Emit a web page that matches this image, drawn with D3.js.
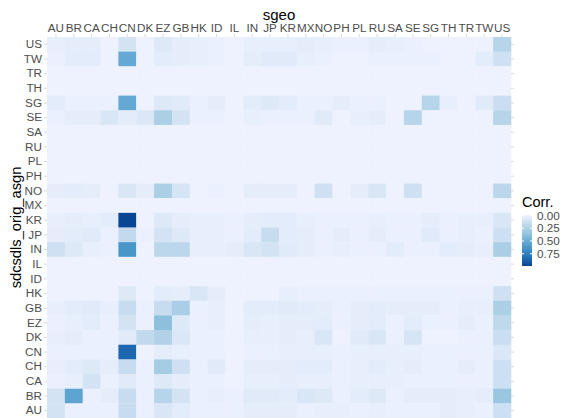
<!DOCTYPE html>
<html>
<head>
<meta charset="utf-8">
<script src="https://cdn.jsdelivr.net/npm/d3@7"></script>
<style>
  body { margin: 0; background: #fff; }
  text { font-family: "Liberation Sans", Arial, sans-serif; }
</style>
</head>
<body>
<svg id="chart" width="565" height="418"></svg>
<script>
// sgeo categories (x, columns)
const xCats = ["AU","BR","CA","CH","CN","DK","EZ","GB","HK","ID","IL","IN","JP",
               "KR","MX","NO","PH","PL","RU","SA","SE","SG","TH","TR","TW","US"];
// sdcsdls_orig_asgn categories (y, rows, top to bottom)
const yCats = ["US","TW","TR","TH","SG","SE","SA","RU","PL","PH","NO","MX","KR",
               "JP","IN","IL","ID","HK","GB","EZ","DK","CN","CH","CA","BR","AU"];
// correlation values, one row per y category, columns in xCats order
const corr = [
  [0.02,0.03,0.03,0.00,0.10,0.00,0.06,0.03,0.02,0.01,0.00,0.02,0.02, 0.02,0.03,0.02,0.01,0.01,0.03,0.02,0.01,0.00,0.00,0.00,0.00,0.22], // US
  [0.01,0.04,0.04,0.00,0.52,0.00,0.04,0.03,0.02,0.01,0.00,0.03,0.05, 0.05,0.02,0.01,0.00,0.00,0.01,0.01,0.01,0.01,0.00,0.00,0.04,0.12], // TW
  [0.00,0.00,0.00,0.00,0.00,0.00,0.00,0.00,0.00,0.00,0.00,0.00,0.00, 0.00,0.00,0.00,0.00,0.00,0.00,0.00,0.00,0.00,0.00,0.00,0.00,0.00], // TR
  [0.00,0.00,0.00,0.00,0.00,0.00,0.00,0.00,0.00,0.00,0.00,0.00,0.00, 0.00,0.00,0.00,0.00,0.00,0.00,0.00,0.00,0.00,0.00,0.00,0.00,0.00], // TH
  [0.04,0.01,0.01,0.01,0.52,0.00,0.06,0.05,0.01,0.03,0.00,0.04,0.06, 0.04,0.01,0.01,0.03,0.01,0.01,0.00,0.00,0.22,0.02,0.00,0.05,0.14], // SG
  [0.01,0.03,0.03,0.08,0.04,0.07,0.27,0.10,0.01,0.01,0.00,0.02,0.01, 0.01,0.01,0.05,0.00,0.02,0.03,0.00,0.22,0.00,0.00,0.00,0.00,0.22], // SE
  [0.00,0.00,0.00,0.00,0.00,0.00,0.00,0.00,0.00,0.00,0.00,0.00,0.00, 0.00,0.00,0.00,0.00,0.00,0.00,0.00,0.00,0.00,0.00,0.00,0.00,0.00], // SA
  [0.00,0.00,0.00,0.00,0.00,0.00,0.00,0.00,0.00,0.00,0.00,0.00,0.00, 0.00,0.00,0.00,0.00,0.00,0.00,0.00,0.00,0.00,0.00,0.00,0.00,0.00], // RU
  [0.00,0.00,0.00,0.00,0.00,0.00,0.00,0.00,0.00,0.00,0.00,0.00,0.00, 0.00,0.00,0.00,0.00,0.00,0.00,0.00,0.00,0.00,0.00,0.00,0.00,0.00], // PL
  [0.00,0.00,0.00,0.00,0.00,0.00,0.00,0.00,0.00,0.00,0.00,0.00,0.00, 0.00,0.00,0.00,0.00,0.00,0.00,0.00,0.00,0.00,0.00,0.00,0.00,0.00], // PH
  [0.03,0.04,0.03,0.00,0.08,0.03,0.27,0.09,0.00,0.01,0.00,0.03,0.03, 0.03,0.00,0.12,0.00,0.03,0.08,0.00,0.12,0.00,0.00,0.00,0.00,0.20], // NO
  [0.00,0.00,0.00,0.00,0.00,0.00,0.00,0.00,0.00,0.00,0.00,0.00,0.00, 0.00,0.00,0.00,0.00,0.00,0.00,0.00,0.00,0.00,0.00,0.00,0.00,0.00], // MX
  [0.02,0.03,0.02,0.04,0.99,0.00,0.06,0.03,0.02,0.02,0.01,0.03,0.04, 0.04,0.02,0.01,0.01,0.01,0.02,0.01,0.01,0.03,0.01,0.02,0.02,0.08], // KR
  [0.03,0.04,0.05,0.01,0.17,0.01,0.10,0.06,0.02,0.02,0.01,0.04,0.15, 0.04,0.03,0.01,0.03,0.01,0.03,0.01,0.01,0.05,0.01,0.02,0.01,0.13], // JP
  [0.12,0.06,0.02,0.01,0.63,0.00,0.20,0.20,0.02,0.02,0.03,0.08,0.10, 0.05,0.03,0.01,0.02,0.01,0.01,0.04,0.01,0.01,0.04,0.03,0.02,0.28], // IN
  [0.00,0.00,0.00,0.00,0.00,0.00,0.00,0.00,0.00,0.00,0.00,0.00,0.00, 0.00,0.00,0.00,0.00,0.00,0.00,0.00,0.00,0.00,0.00,0.00,0.00,0.00], // IL
  [0.00,0.00,0.00,0.00,0.00,0.00,0.00,0.00,0.00,0.00,0.00,0.00,0.00, 0.00,0.00,0.00,0.00,0.00,0.00,0.00,0.00,0.00,0.00,0.00,0.00,0.00], // ID
  [0.00,0.00,0.00,0.00,0.06,0.00,0.04,0.03,0.08,0.03,0.00,0.00,0.00, 0.02,0.01,0.01,0.01,0.01,0.01,0.01,0.01,0.01,0.01,0.01,0.01,0.12], // HK
  [0.02,0.04,0.05,0.02,0.15,0.01,0.15,0.28,0.01,0.02,0.00,0.04,0.04, 0.05,0.04,0.03,0.01,0.03,0.04,0.03,0.03,0.03,0.01,0.02,0.02,0.27], // GB
  [0.01,0.02,0.04,0.01,0.10,0.01,0.38,0.06,0.01,0.02,0.00,0.03,0.02, 0.03,0.03,0.04,0.01,0.03,0.04,0.01,0.04,0.01,0.01,0.03,0.01,0.19], // EZ
  [0.02,0.03,0.01,0.01,0.05,0.18,0.25,0.07,0.01,0.01,0.00,0.02,0.02, 0.03,0.02,0.08,0.00,0.05,0.08,0.01,0.09,0.00,0.00,0.01,0.01,0.14], // DK
  [0.01,0.01,0.01,0.01,0.86,0.00,0.03,0.02,0.01,0.01,0.00,0.01,0.01, 0.02,0.02,0.02,0.01,0.02,0.02,0.02,0.02,0.01,0.01,0.01,0.01,0.07], // CN
  [0.02,0.04,0.06,0.03,0.15,0.01,0.30,0.12,0.01,0.05,0.00,0.03,0.03, 0.03,0.04,0.04,0.01,0.02,0.04,0.02,0.03,0.01,0.01,0.03,0.01,0.13], // CH
  [0.01,0.02,0.10,0.01,0.05,0.01,0.06,0.03,0.01,0.01,0.00,0.02,0.02, 0.03,0.02,0.02,0.01,0.02,0.02,0.02,0.01,0.01,0.01,0.01,0.01,0.13], // CA
  [0.10,0.55,0.01,0.03,0.15,0.01,0.22,0.10,0.01,0.02,0.01,0.05,0.05, 0.04,0.08,0.06,0.01,0.04,0.06,0.01,0.03,0.03,0.03,0.02,0.03,0.34], // BR
  [0.10,0.01,0.01,0.01,0.15,0.01,0.08,0.04,0.01,0.01,0.01,0.03,0.03, 0.03,0.01,0.02,0.02,0.01,0.02,0.01,0.01,0.01,0.03,0.02,0.01,0.13]  // AU
];
const legendTicks = [0, 0.25, 0.5, 0.75];
const blues7 = ["#EFF3FF","#C6DBEF","#9ECAE1","#6BAED6","#4292C6","#2171B5","#084594"];

const svg = d3.select("#chart");
const panel = { left: 47, right: 511, top: 37, bottom: 418 };

const cells = [];
yCats.forEach((yc, i) => xCats.forEach((xc, j) => cells.push({ x: xc, y: yc, v: corr[i][j] })));

const lo = -0.01, hi = d3.max(cells, d => d.v);
const color = d3.scaleLinear()
  .domain(blues7.map((c, i) => lo + i * (hi - lo) / 6))
  .range(blues7)
  .interpolate(d3.interpolateLab);

const x = d3.scaleBand().domain(xCats).range([panel.left, panel.right]);
const y = d3.scaleBand().domain(yCats).range([panel.top, panel.bottom]);

// tiles
svg.append("g").selectAll("rect")
  .data(cells)
  .enter().append("rect")
  .attr("x", d => x(d.x))
  .attr("y", d => y(d.y))
  .attr("width", x.bandwidth() + 0.3)
  .attr("height", y.bandwidth() + 0.3)
  .attr("fill", d => color(d.v));

// axes
const xAxis = svg.append("g")
  .attr("transform", "translate(0," + panel.top + ")")
  .call(d3.axisTop(x).tickSize(3).tickPadding(2));
const yAxis = svg.append("g")
  .attr("transform", "translate(" + panel.left + ",0)")
  .call(d3.axisLeft(y).tickSize(3).tickPadding(2));
const yRight = svg.append("g")
  .attr("transform", "translate(" + panel.right + ",0)")
  .call(d3.axisRight(y).tickSize(3).tickFormat(""));
[xAxis, yAxis, yRight].forEach(g => {
  g.select(".domain").remove();
  g.selectAll(".tick line").attr("stroke", "#d9d9d9");
  g.selectAll(".tick text")
    .attr("fill", "#4d4d4d")
    .style("font-size", "11.7px")
    .style("font-family", "'Liberation Sans', Arial, sans-serif");
});

// axis titles
svg.append("text")
  .attr("x", (panel.left + panel.right) / 2)
  .attr("y", 19.5)
  .attr("text-anchor", "middle")
  .style("font-size", "15px")
  .text("sgeo");

svg.append("text")
  .attr("transform", "translate(21," + (panel.top + panel.bottom) / 2 + ")rotate(-90)")
  .attr("text-anchor", "middle")
  .style("font-size", "14.7px")
  .text("sdcsdls_orig_asgn");

// legend
const leg = { x: 522, top: 215, h: 51, w: 10 };
const grad = svg.append("defs").append("linearGradient")
  .attr("id", "corrGrad")
  .attr("x1", 0).attr("y1", 0).attr("x2", 0).attr("y2", 1);
d3.range(0, 1.0001, 0.05).forEach(t => {
  grad.append("stop")
    .attr("offset", t)
    .attr("stop-color", color(lo + t * (hi - lo)));
});

svg.append("text")
  .attr("x", leg.x)
  .attr("y", 206.5)
  .style("font-size", "14.5px")
  .text("Corr.");

svg.append("rect")
  .attr("x", leg.x)
  .attr("y", leg.top)
  .attr("width", leg.w)
  .attr("height", leg.h)
  .attr("fill", "url(#corrGrad)");

const legY = d3.scaleLinear().domain([lo, hi]).range([leg.top, leg.top + leg.h]);
const lt = svg.append("g").selectAll("g")
  .data(legendTicks)
  .enter().append("g")
  .attr("transform", d => "translate(0," + legY(d) + ")");
lt.append("line").attr("x1", leg.x).attr("x2", leg.x + 2).attr("stroke", "#fff");
lt.append("line").attr("x1", leg.x + leg.w - 2).attr("x2", leg.x + leg.w).attr("stroke", "#fff");
lt.append("text")
  .attr("x", leg.x + 15)
  .attr("dy", "0.35em")
  .attr("fill", "#4d4d4d")
  .style("font-size", "11.7px")
  .text(d => d3.format(".2f")(d));
</script>
</body>
</html>
